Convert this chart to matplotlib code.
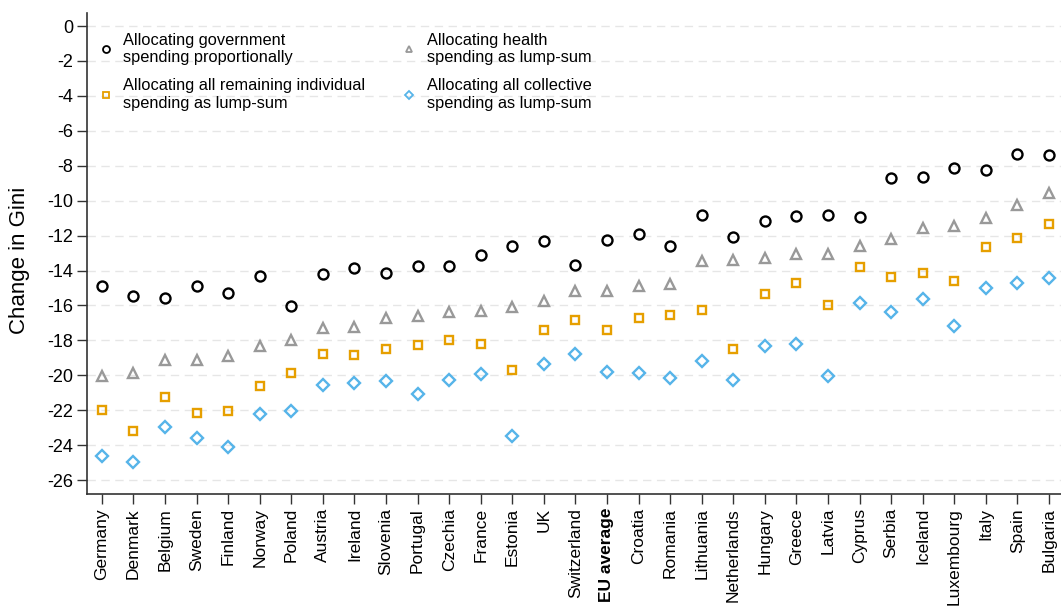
import matplotlib.pyplot as plt
import matplotlib as mpl
from matplotlib.lines import Line2D

mpl.rcParams['font.family'] = ['Liberation Sans', 'DejaVu Sans']

countries = ['Germany', 'Denmark', 'Belgium', 'Sweden', 'Finland', 'Norway', 'Poland',
             'Austria', 'Ireland', 'Slovenia', 'Portugal', 'Czechia', 'France', 'Estonia',
             'UK', 'Switzerland', 'EU average', 'Croatia', 'Romania', 'Lithuania',
             'Netherlands', 'Hungary', 'Greece', 'Latvia', 'Cyprus', 'Serbia', 'Iceland',
             'Luxembourg', 'Italy', 'Spain', 'Bulgaria']

# government spending allocated proportionally
prop = [-14.89, -15.45, -15.60, -14.86, -15.30, -14.32, -16.02, -14.17, -13.88, -14.15,
        -13.75, -13.75, -13.11, -12.62, -12.33, -13.71, -12.25, -11.93, -12.58, -10.80,
        -12.06, -11.17, -10.88, -10.82, -10.94, -8.68, -8.66, -8.14, -8.26, -7.34, -7.40]
# health as lump-sum
health = [-20.06, -19.87, -19.12, -19.10, -18.91, -18.34, -17.95, -17.28, -17.21, -16.69,
          -16.63, -16.40, -16.29, -16.10, -15.77, -15.18, -15.18, -14.87, -14.76, -13.46,
          -13.40, -13.31, -13.06, -13.06, -12.60, -12.18, -11.59, -11.43, -10.99, -10.25, -9.56]
# remaining individual as lump-sum
indiv = [-21.99, -23.17, -21.22, -22.14, -22.02, -20.63, -19.86, -18.77, -18.81, -18.49,
         -18.26, -17.99, -18.22, -19.67, -17.42, -16.81, -17.42, -16.73, -16.54, -16.27,
         -18.47, -15.33, -14.74, -15.98, -13.80, -14.36, -14.13, -14.61, -12.64, -12.14, -11.32]
# collective as lump-sum
collective = [-24.62, -24.99, -22.98, -23.59, -24.09, -22.24, -22.06, -20.53, -20.44, -20.32,
              -21.07, -20.27, -19.90, -23.46, -19.37, -18.76, -19.81, -19.88, -20.13, -19.19,
              -20.27, -18.32, -18.22, -20.06, -15.87, -16.40, -15.62, -17.19, -14.99, -14.72, -14.43]

black = '#000000'
gray = '#999999'
orange = '#E69F00'
blue = '#56B4E9'

fig = plt.figure(figsize=(10.61, 6.07), dpi=100)
ax = fig.add_axes([0.082, 0.186, 0.918, 0.793])

x = list(range(len(countries)))
ms = 7.2
lw = 1.7
ax.plot(x, prop, linestyle='none', marker='o', ms=ms, mfc='none', mec=black, mew=lw, zorder=3)
ax.plot(x, health, linestyle='none', marker='^', ms=ms, mfc='none', mec=gray, mew=lw, zorder=3)
ax.plot(x, indiv, linestyle='none', marker='s', ms=ms - 0.8, mfc='none', mec=orange, mew=lw, zorder=3)
ax.plot(x, collective, linestyle='none', marker='D', ms=ms - 0.8, mfc='none', mec=blue, mew=lw, zorder=3)

ax.set_xlim(-0.47, len(countries) - 1 + 0.38)
ax.set_ylim(-26.8, 0.76)
ax.set_yticks(range(0, -27, -2))
ax.set_yticklabels([str(v) for v in range(0, -27, -2)], fontsize=13)
ax.set_xticks(x)
ax.set_xticklabels(countries, rotation=90, fontsize=12.5)
for lab in ax.get_xticklabels():
    if lab.get_text() == 'EU average':
        lab.set_fontweight('bold')

ax.yaxis.grid(True, color='#e6e6e6', linestyle=(0, (6, 4)), linewidth=1)
ax.set_axisbelow(True)
ax.spines['top'].set_visible(False)
ax.spines['right'].set_visible(False)
for s in ['left', 'bottom']:
    ax.spines[s].set_color('#333333')
    ax.spines[s].set_linewidth(1.2)
ax.tick_params(axis='both', direction='out', length=7, width=1, color='#333333', pad=3)
ax.set_ylabel('Change in Gini', fontsize=16, labelpad=12)
ax.yaxis.label.set_y(0.486)

handles = [
    Line2D([], [], linestyle='none', marker='o', ms=5, mfc='none', mec=black, mew=1.3),
    Line2D([], [], linestyle='none', marker='s', ms=5, mfc='none', mec=orange, mew=1.3),
    Line2D([], [], linestyle='none', marker='^', ms=5, mfc='none', mec=gray, mew=1.3),
    Line2D([], [], linestyle='none', marker='D', ms=4.5, mfc='none', mec=blue, mew=1.3),
]
labels = ['Allocating government\nspending proportionally',
          'Allocating all remaining individual\nspending as lump-sum',
          'Allocating health\nspending as lump-sum',
          'Allocating all collective\nspending as lump-sum']
leg = ax.legend(handles, labels, ncol=2, loc='upper left', bbox_to_anchor=(0.011, 0.958),
                frameon=False, fontsize=11.8, handlelength=1.0, handletextpad=0.55,
                columnspacing=2.2, labelspacing=0.8, borderaxespad=0, borderpad=0)
for t in leg.get_texts():
    t.set_linespacing(1.2)

fig.savefig('out.png', dpi=100)
